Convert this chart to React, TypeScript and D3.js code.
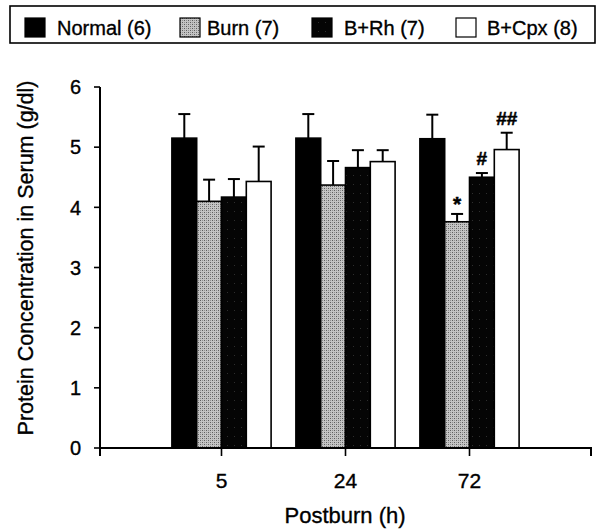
import { useEffect, useRef } from "react"
import * as d3 from "d3"

// Postburn time points (h)
const timepoints = ["5", "24", "72"]
const groups = ["Normal (6)", "Burn (7)", "B+Rh (7)", "B+Cpx (8)"]

// protein concentration in serum, g/dl (mean and SE)
const normalMean = [5.15, 5.15, 5.14]
const normalErr = [0.4, 0.4, 0.4]
const burnMean = [4.1, 4.37, 3.76]
const burnErr = [0.36, 0.4, 0.13]
const rhMean = [4.17, 4.66, 4.5]
const rhErr = [0.3, 0.29, 0.07]
const cpxMean = [4.43, 4.76, 4.96]
const cpxErr = [0.58, 0.19, 0.28]

const yTicks = [0, 1, 2, 3, 4, 5, 6]

const annotations = [
  { time: "72", group: 2, label: "*" },
  { time: "72", group: 3, label: "#" },
  { time: "72", group: 4, label: "##" },
]

const means = [normalMean, burnMean, rhMean, cpxMean]
const errs = [normalErr, burnErr, rhErr, cpxErr]
const fills = ["#000", "url(#burnPat)", "url(#rhPat)", "#fff"]

// legend layout (square x, text x)
const legendSquareX = [25, 180, 312, 456]
const legendTextX = [57, 207, 344, 487]

const FONT = "'Liberation Sans', Arial, Helvetica, sans-serif"

const App = () => {
  const svgRef = useRef<SVGSVGElement>(null)

  useEffect(() => {
    const svg = d3.select(svgRef.current)
    svg.selectAll("*").remove()

    const defs = svg.append("defs")
    const burn = defs
      .append("pattern")
      .attr("id", "burnPat")
      .attr("patternUnits", "userSpaceOnUse")
      .attr("width", 4)
      .attr("height", 4)
    burn.append("rect").attr("width", 4).attr("height", 4).attr("fill", "#c4c4c4")
    burn.append("rect").attr("x", 0).attr("y", 0).attr("width", 1).attr("height", 1).attr("fill", "#5e5e5e")
    burn.append("rect").attr("x", 2).attr("y", 2).attr("width", 1).attr("height", 1).attr("fill", "#5e5e5e")
    burn.append("rect").attr("x", 2).attr("y", 0).attr("width", 1).attr("height", 1).attr("fill", "#909090")
    burn.append("rect").attr("x", 0).attr("y", 2).attr("width", 1).attr("height", 1).attr("fill", "#909090")

    const rh = defs
      .append("pattern")
      .attr("id", "rhPat")
      .attr("patternUnits", "userSpaceOnUse")
      .attr("width", 7)
      .attr("height", 9)
    rh.append("rect").attr("width", 7).attr("height", 9).attr("fill", "#050505")
    rh.append("rect").attr("x", 3).attr("y", 4).attr("width", 1).attr("height", 1).attr("fill", "#2e2e2e")

    const left = 100
    const right = 591
    const top = 87
    const bottom = 448

    const x = d3.scaleBand().domain(timepoints).range([159.5, 531.5]).paddingInner(0.2).paddingOuter(0.1)
    const xs = d3
      .scaleBand<number>()
      .domain(d3.range(groups.length))
      .range([0, x.bandwidth()])
    const y = d3.scaleLinear().domain([0, 6]).range([bottom, top])

    const label = (sel, size) =>
      sel
        .style("font-family", FONT)
        .style("font-size", size)
        .style("fill", "#000")
        .style("stroke", "#000")
        .style("stroke-width", 0.35)

    // legend box
    svg
      .append("rect")
      .attr("x", 10)
      .attr("y", 6)
      .attr("width", 585)
      .attr("height", 37)
      .attr("fill", "#fff")
      .attr("stroke", "#000")
      .attr("stroke-width", 1.6)

    groups.forEach((gname, i) => {
      svg
        .append("rect")
        .attr("x", legendSquareX[i])
        .attr("y", 18)
        .attr("width", 20)
        .attr("height", 19)
        .attr("fill", fills[i])
        .attr("stroke", "#000")
        .attr("stroke-width", 1.2)
      label(svg.append("text").attr("x", legendTextX[i]).attr("y", 35), "20px").text(gname)
    })

    // bars
    const g = svg.append("g")
    timepoints.forEach((t, ti) => {
      groups.forEach((_, gi) => {
        const bx = (x(t) ?? 0) + (xs(gi) ?? 0)
        const bw = xs.bandwidth()
        const m = means[gi][ti]
        const e = errs[gi][ti]
        const cx = bx + bw / 2

        // error bar (upper only)
        g.append("line")
          .attr("x1", cx)
          .attr("x2", cx)
          .attr("y1", y(m))
          .attr("y2", y(m + e))
          .attr("stroke", "#000")
          .attr("stroke-width", 2)
        g.append("line")
          .attr("x1", cx - 6)
          .attr("x2", cx + 6)
          .attr("y1", y(m + e))
          .attr("y2", y(m + e))
          .attr("stroke", "#000")
          .attr("stroke-width", 2)

        g.append("rect")
          .attr("x", bx)
          .attr("y", y(m))
          .attr("width", bw)
          .attr("height", y(0) - y(m))
          .attr("fill", fills[gi])
          .attr("stroke", "#000")
          .attr("stroke-width", 1.6)
      })
    })

    // significance marks
    annotations.forEach((a) => {
      const ti = timepoints.indexOf(a.time)
      const gi = a.group - 1
      const cx = (x(a.time) ?? 0) + (xs(gi) ?? 0) + xs.bandwidth() / 2
      const topY = y(means[gi][ti] + errs[gi][ti])
      g.append("text")
        .attr("x", cx)
        .attr("y", a.label === "*" ? topY - 3 : topY - 8)
        .attr("text-anchor", "middle")
        .style("font-family", FONT)
        .style("font-size", a.label === "*" ? "21px" : "19px")
        .style("font-weight", "bold")
        .style("fill", "#000")
        .style("stroke", "#000")
        .style("stroke-width", 0.5)
        .text(a.label)
    })

    // y axis
    const ya = svg.append("g")
    ya.append("line")
      .attr("x1", left)
      .attr("x2", left)
      .attr("y1", top)
      .attr("y2", bottom)
      .attr("stroke", "#000")
      .attr("stroke-width", 2)
    yTicks.forEach((v) => {
      ya.append("line")
        .attr("x1", left - 6)
        .attr("x2", left)
        .attr("y1", y(v))
        .attr("y2", y(v))
        .attr("stroke", "#000")
        .attr("stroke-width", 1.6)
      label(
        ya.append("text").attr("x", 81).attr("y", y(v)).attr("dy", "0.36em").attr("text-anchor", "end"),
        "20px"
      ).text(v)
    })

    // x axis
    const xa = svg.append("g").attr("transform", `translate(0,${bottom})`)
    xa.append("path")
      .attr("d", `M${left},8V0H${right}V8`)
      .attr("fill", "none")
      .attr("stroke", "#000")
      .attr("stroke-width", 2)
    timepoints.forEach((t) => {
      const cx = (x(t) ?? 0) + x.bandwidth() / 2
      xa.append("line")
        .attr("x1", cx)
        .attr("x2", cx)
        .attr("y1", 0)
        .attr("y2", 8)
        .attr("stroke", "#000")
        .attr("stroke-width", 1.6)
      label(xa.append("text").attr("x", cx).attr("y", 40).attr("text-anchor", "middle"), "21px").text(t)
    })

    // axis titles
    label(svg.append("text").attr("x", 345).attr("y", 523).attr("text-anchor", "middle"), "22px").text(
      "Postburn (h)"
    )

    label(
      svg.append("text").attr("transform", "translate(33,258) rotate(-90)").attr("text-anchor", "middle"),
      "21.5px"
    ).text("Protein Concentration in Serum (g/dl)")
  }, [])

  return (
    <svg
      ref={svgRef}
      width={602}
      height={530}
      style={{ position: "absolute", left: 0, top: 0, background: "#fff" }}
    ></svg>
  )
}

export default App
